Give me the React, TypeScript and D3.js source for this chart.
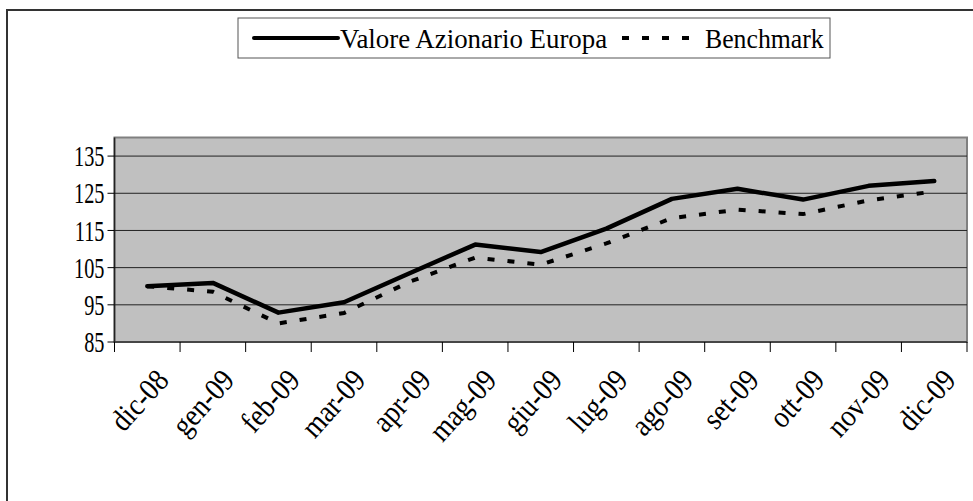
import * as d3 from 'd3';

const months = ['dic-08','gen-09','feb-09','mar-09','apr-09','mag-09','giu-09','lug-09','ago-09','set-09','ott-09','nov-09','dic-09'];
const valore = [100, 100.9, 92.9, 95.7, 103.5, 111.2, 109.2, 115.5, 123.5, 126.2, 123.3, 127, 128.3];
const benchmark = [100, 98.5, 90, 92.8, 101.2, 107.7, 105.8, 111.5, 118.3, 120.6, 119.4, 123.1, 125.5];
const yTicks = [85, 95, 105, 115, 125, 135];

const W = 973, H = 501;
const left = 114.5, right = 967, top = 137.5, bottom = 342;
const font = "'Times New Roman', 'Liberation Serif', serif";

// text squeezed horizontally, like the stretched original
function Label({ x, y, rot = 0, anchor = 'start', size = 28, sx = 0.8, children }: any) {
  return (
    <g transform={`translate(${x},${y}) rotate(${rot}) scale(${sx},1)`}>
      <text textAnchor={anchor} dy="0.35em" fontSize={size} fontFamily={font}>{children}</text>
    </g>
  );
}

export default function App() {
  const x = d3.scaleBand().domain(months).range([left, right]).padding(0);
  const y = d3.scaleLinear().domain([85, 140]).range([bottom, top]);
  const cx = (m: string) => (x(m) as number) + x.bandwidth() / 2;

  const line = d3.line<number>()
    .x((_, i) => cx(months[i]))
    .y(d => y(d));

  const bounds = [...months.map(m => x(m) as number), right];

  return (
    <svg width={W} height={H} style={{ position: 'absolute', left: 0, top: 0 }}>
      <rect x={0} y={0} width={W} height={H} fill="#fff" />
      {/* outer chart border */}
      <path d={`M7,${H + 5}V10H${W + 5}`} fill="none" stroke="#333" strokeWidth={2} />

      {/* legend */}
      <rect x={238} y={18} width={592} height={40} fill="#fff" stroke="#555" strokeWidth={1} />
      <line x1={254} x2={338} y1={38} y2={38} stroke="#000" strokeWidth={4} strokeLinecap="round" />
      <Label x={340} y={38} sx={0.96}>Valore Azionario Europa</Label>
      <line x1={622} x2={702} y1={38} y2={38} stroke="#000" strokeWidth={4} strokeDasharray="7,13" />
      <Label x={705} y={38} sx={0.92}>Benchmark</Label>

      {/* plot area */}
      <rect x={left} y={top} width={right - left} height={bottom - top} fill="#c0c0c0" stroke="#808080" strokeWidth={2} />
      {yTicks.slice(1).map(t => (
        <line key={t} x1={left} x2={right} y1={y(t)} y2={y(t)} stroke="#222" strokeWidth={1} />
      ))}
      <line x1={left} x2={left} y1={top} y2={bottom} stroke="#222" strokeWidth={1.5} />
      <line x1={left} x2={right} y1={bottom} y2={bottom} stroke="#333" strokeWidth={1.5} />
      {yTicks.map(t => (
        <g key={t}>
          <line x1={left - 7} x2={left} y1={y(t)} y2={y(t)} stroke="#000" />
          <Label x={left - 10} y={y(t)} anchor="end" size={29} sx={0.7}>{t}</Label>
        </g>
      ))}
      {bounds.map((b, i) => (
        <line key={i} x1={b} x2={b} y1={bottom} y2={bottom + 10} stroke="#000" />
      ))}
      {months.map(m => (
        <Label key={m} x={cx(m) + 15} y={374} rot={-48} anchor="end" size={31} sx={0.88}>{m}</Label>
      ))}

      <path d={line(benchmark) || ''} fill="none" stroke="#000" strokeWidth={4} strokeDasharray="7,13" />
      <path d={line(valore) || ''} fill="none" stroke="#000" strokeWidth={4.5} strokeLinejoin="round" strokeLinecap="round" />
    </svg>
  );
}
